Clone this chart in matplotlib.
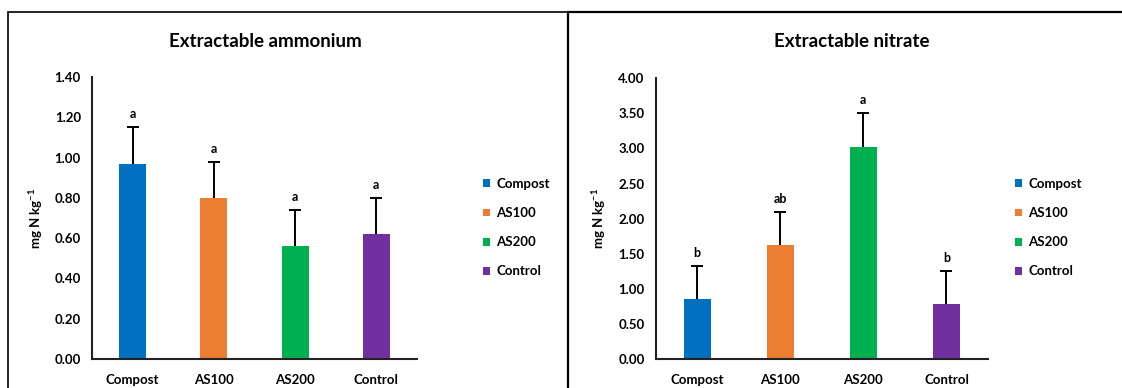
import numpy as np
import matplotlib
matplotlib.use('Agg')
import matplotlib.pyplot as plt
from matplotlib.patches import Patch, Rectangle

plt.rcParams['font.family'] = ['Lato', 'DejaVu Sans']
plt.rcParams['font.weight'] = 'bold'
plt.rcParams['mathtext.default'] = 'regular'

# data
treatments = ['Compost', 'AS100', 'AS200', 'Control']
colors = ['#0070C0', '#ED7D31', '#00B050', '#7030A0']

ammonium = [0.97, 0.80, 0.56, 0.62]
ammonium_err = [0.18, 0.18, 0.18, 0.18]
ammonium_letters = ['a', 'a', 'a', 'a']
ammonium_ticks = [0.0, 0.2, 0.4, 0.6, 0.8, 1.0, 1.2, 1.4]

nitrate = [0.85, 1.63, 3.02, 0.79]
nitrate_err = [0.48, 0.47, 0.48, 0.47]
nitrate_letters = ['b', 'ab', 'a', 'b']
nitrate_ticks = [0.0, 0.5, 1.0, 1.5, 2.0, 2.5, 3.0, 3.5, 4.0]


def draw_panel(fig, rect, title, title_x, values, errs, letters, ticks, legend_x):
    """Draw one bar panel with upper error bars, letters and legend."""
    ax = fig.add_axes(rect)
    x = np.arange(len(treatments))
    tops = np.array(values) + np.array(errs)
    ax.bar(x, values, width=0.33, color=colors, zorder=2)
    # upper error bar only, with a cap
    ax.vlines(x, values, tops, color='black', linewidth=1.4, zorder=3)
    ax.plot(x, tops, linestyle='none', marker='_', markersize=8,
            markeredgewidth=1.4, color='black', zorder=3)
    for xi, t, lab in zip(x, tops, letters):
        ax.annotate(lab, (xi, t), xytext=(0, 5), textcoords='offset points',
                    ha='center', va='bottom', fontsize=9, fontweight='bold')
    ax.set_xlim(-0.5, len(x) - 0.5)
    ax.set_ylim(ticks[0], ticks[-1])
    ax.set_yticks(ticks)
    ax.set_yticklabels(['%.2f' % t for t in ticks])
    ax.set_xticks(x)
    ax.set_xticklabels(treatments)
    ax.tick_params(length=0, labelsize=9.5, pad=8)
    ax.tick_params(axis='x', pad=11)
    for s in ['top', 'right']:
        ax.spines[s].set_visible(False)
    for s in ['left', 'bottom']:
        ax.spines[s].set_linewidth(1.5)
        ax.spines[s].set_color('#222222')
    ax.set_ylabel('mg N kg$^{-1}$', fontsize=9.5, fontweight='bold', labelpad=7)
    fig.text(title_x, 0.893, title, ha='center', va='center', fontsize=13.5, fontweight='bold')
    handles = [Patch(facecolor=c, edgecolor='none') for c in colors]
    fig.legend(handles, treatments, loc='center left', bbox_to_anchor=(legend_x, 0.413),
               frameon=False, fontsize=9.5, handlelength=0.55, handleheight=0.55,
               handletextpad=0.45, labelspacing=1.3, borderpad=0, borderaxespad=0)
    return ax


fig = plt.figure(figsize=(11.22, 3.88), dpi=100)

# panel frames (cropped at the bottom and right in the original)
fig.add_artist(Rectangle((8 / 1122, -0.1), 560 / 1122, 1.1 - 12 / 388, transform=fig.transFigure,
                         fill=False, edgecolor='black', linewidth=1.2))
fig.add_artist(Rectangle((568 / 1122, -0.1), 0.6, 1.1 - 12 / 388, transform=fig.transFigure,
                         fill=False, edgecolor='black', linewidth=1.6))

draw_panel(fig, [0.082, 0.0747, 0.2897, 0.7268], 'Extractable ammonium', 265 / 1122,
           ammonium, ammonium_err, ammonium_letters, ammonium_ticks, 483 / 1122)
draw_panel(fig, [0.5844, 0.0747, 0.2962, 0.7235], 'Extractable nitrate', 852 / 1122,
           nitrate, nitrate_err, nitrate_letters, nitrate_ticks, 1015 / 1122)

fig.savefig('out.png', dpi=100)
